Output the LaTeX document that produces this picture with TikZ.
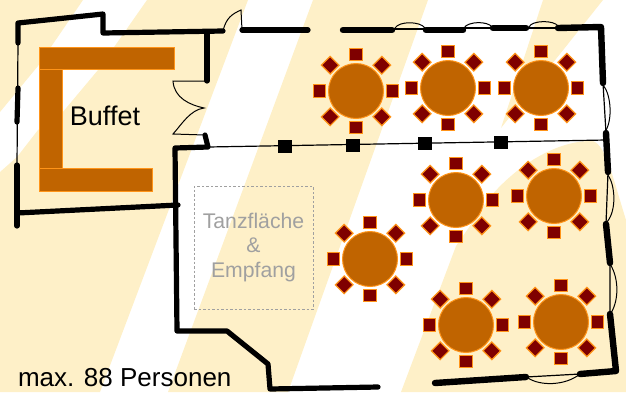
\documentclass[tikz,border=0pt]{standalone}
\usepackage{fontspec}
\setmainfont{Liberation Sans}
\usetikzlibrary{positioning,calc}
\definecolor{creamBg}{HTML}{FEF0C8}
\definecolor{tableFill}{HTML}{C06400}
\definecolor{tableLine}{HTML}{FF9419}
\definecolor{chairFill}{HTML}{7F0000}
\definecolor{labelGrey}{HTML}{A0A0A0}
\tikzset{
	wall/.style={line width=5.2pt, line cap=round, line join=round},
	thickwall/.style={line width=6.4pt, line cap=round, line join=round},
	thinwall/.style={line width=1.2pt},
	swing/.style={line width=1pt},
	pillar/.style={fill=black, inner sep=0pt, minimum width=14pt, minimum height=13pt},
	buffetBar/.style={draw=tableLine, fill=tableFill, line width=1pt},
	tableDisc/.style={circle, draw=tableLine, fill=tableFill, line width=1pt, inner sep=0pt, minimum size=55pt},
	chair/.style={draw=tableLine, fill=chairFill, line width=1.2pt, inner sep=0pt, minimum size=12.5pt},
}
% one round table with eight chairs around it
\newcommand{\roundTable}[3]{\node[tableDisc] (#1) at (#2,#3) {};
	\foreach \ang in {0,45,...,315} {
		\node[chair, rotate=\ang] (#1c\ang) at ($(#1)+(\ang:36.5pt)$) {};
	}}
\begin{document}
\begin{tikzpicture}[x=1pt,y=-1pt]
	\useasboundingbox (0,0) rectangle (626,392);
	% background stripes
	\fill[creamBg] (0,0) -- (83,0) -- (38,66) -- (0,112) -- cycle;
	\fill[creamBg] (147,0) -- (248,0) -- (100,392) -- (0,392) -- (0,172) -- (17,157) -- (38,130) -- (62,113) -- (98,70) -- cycle;
	\fill[creamBg] (313,0) -- (428,0) -- (288,392) -- (168,392) -- cycle;
	\fill[creamBg] (543,0) -- (603,0) -- (501,128) -- cycle;
	\fill[creamBg] (401,392) -- (456,246) -- (490,197) .. controls (520,162) and (560,140) .. (593,141) .. controls (606,146) and (612,175) .. (626,220) -- (626,392) -- cycle;
	% buffet
	\draw[buffetBar] (39,47) rectangle (174,69);
	\draw[buffetBar] (39,69) rectangle (62,168);
	\draw[buffetBar] (39,168) rectangle (152,191);
	\node[font=\fontsize{27}{30}\selectfont] (buffetLabel) at (105,116) {Buffet};
	% dance floor
	\node[draw=labelGrey, dash pattern=on 2.5pt off 2pt, line width=.8pt, minimum width=119pt, minimum height=123pt, inner sep=0pt] (floorBox) at (253.5,247.5) {};
	\node[font=\fontsize{21.2}{24.5}\selectfont, text=labelGrey, align=center] (floorLabel) at (floorBox) {Tanzfläche\\\&\\Empfang};
	% tables
	\roundTable{ta}{356}{91}
	\roundTable{tb}{448}{88}
	\roundTable{tc}{541}{88}
	\roundTable{td}{456}{200}
	\roundTable{te}{554}{196}
	\roundTable{tf}{370}{259}
	\roundTable{tg}{466}{325}
	\roundTable{th}{561}{322}
	% outer walls
	\draw[wall] (18,43) -- (18,23) -- (103,14) -- (103,33) -- (223,31);
	\draw[wall] (207,33) -- (207,81);
	\draw[wall] (242,30) -- (308,30);
	\draw[wall] (18,88) -- (17,122);
	\draw[wall] (17,165) -- (17,226);
	\draw[wall] (17,213) -- (178,205);
	\draw[wall] (205,135) -- (208,147) -- (175,148) -- (177,331) -- (227,331) -- (268,364) -- (270,389) -- (378,387);
	\draw[thinwall] (18,43) -- (17,165);
	\draw[thickwall] (343,30) -- (392,30);
	\draw[thickwall] (426,30) -- (463,30);
	\draw[thickwall] (493,28) -- (526,28);
	\draw[thickwall] (558,28) -- (601,27) -- (603,83);
	\draw[thickwall] (606,133) -- (608,172);
	\draw[thickwall] (606,224) -- (610,263);
	\draw[thickwall] (610,314) -- (616,371) -- (580,374);
	\draw[thickwall] (435,383) -- (526,377);
	% thin window lines and cross wall
	\draw[thinwall] (392,29) -- (426,29) (463,28) -- (493,28) (526,28) -- (558,28);
	\draw[thinwall] (603,83) -- (606,133) (608,172) -- (606,224) (610,263) -- (610,314) (526,377) -- (580,374);
	\draw[thinwall] (208,147) -- (606,140);
	% doors and window curves
	\draw[swing] (223,31) .. controls (226,18) and (232,14) .. (241,10) -- (242,30);
	\draw[swing] (207,81) -- (173,81) .. controls (174,98) and (190,105) .. (204,108) .. controls (190,110) and (182,124) .. (173,134) -- (205,135);
	\draw[swing] (395,28) .. controls (399,21) and (420,21) .. (425,28);
	\draw[swing] (464,28) .. controls (468,21) and (488,21) .. (492,27);
	\draw[swing] (529,27) .. controls (532,20) and (554,20) .. (558,26);
	\draw[swing] (603,85) .. controls (611,94) and (613,120) .. (605,132);
	\draw[swing] (608,175) .. controls (615,185) and (617,210) .. (607,222);
	\draw[swing] (610,264) .. controls (619,278) and (619,300) .. (611,313);
	\draw[swing] (528,378) .. controls (540,386) and (565,386) .. (580,374);
	% pillars
	\node[pillar] (pa) at (285,146) {};
	\node[pillar] (pb) at (353,145) {};
	\node[pillar] (pc) at (425,143) {};
	\node[pillar] (pd) at (501,142) {};
	\node[font=\fontsize{26}{30}\selectfont, anchor=base west] (capLabel) at (14.5,386) {max. 88 Personen};
\end{tikzpicture}
\end{document}
